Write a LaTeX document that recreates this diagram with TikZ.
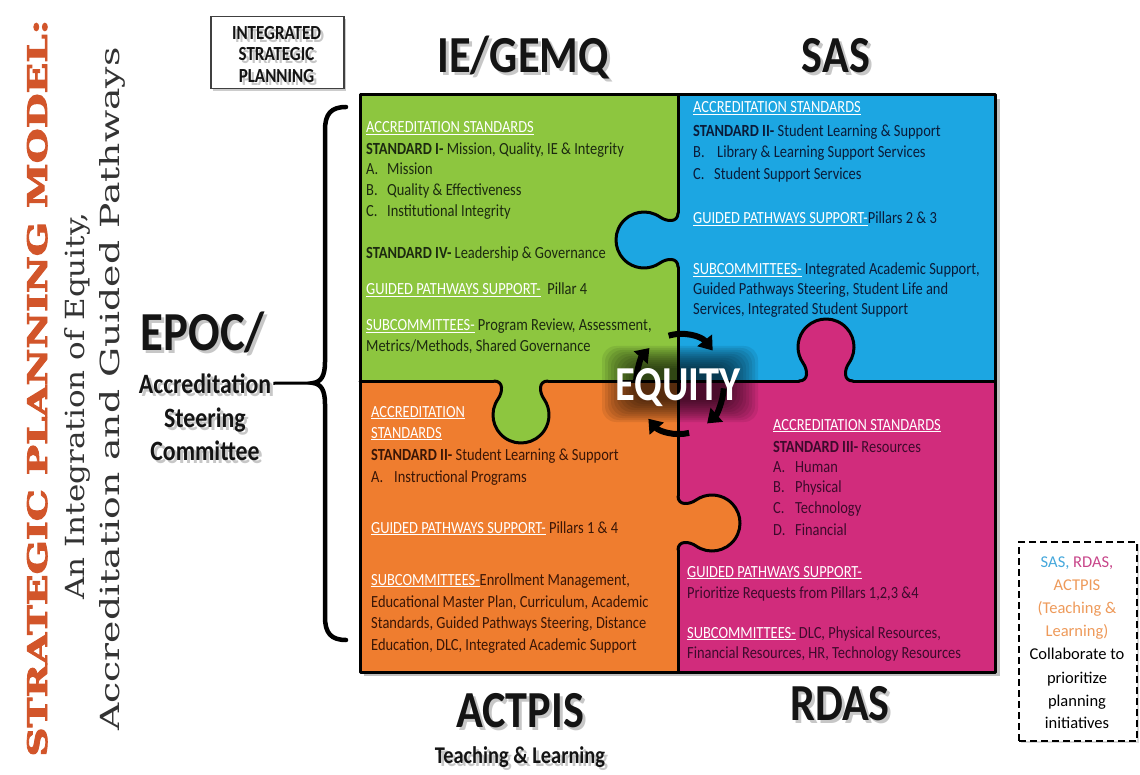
\documentclass[tikz,border=0pt]{standalone}
\usepackage{fontspec}
\setmainfont{Carlito}[FakeStretch=0.85]
\newfontfamily\plainfont{Carlito}
\newfontfamily\slabfont{DejaVu Serif}[BoldFeatures={FakeBold=3}]
\usetikzlibrary{arrows.meta}
\definecolor{pgreen}{HTML}{8DC63F}
\definecolor{pblue}{HTML}{1CA6E2}
\definecolor{porange}{HTML}{EF7D2F}
\definecolor{pmag}{HTML}{D12C7C}
\definecolor{gtxt}{HTML}{1C2A10}
\definecolor{btxt}{HTML}{0A1C3A}
\definecolor{otxt}{HTML}{3A1606}
\definecolor{mtxt}{HTML}{3E0A2C}
\definecolor{titlered}{HTML}{D2552A}
\definecolor{sastxt}{HTML}{45A8DC}
\definecolor{rdastxt}{HTML}{C8468A}
\definecolor{actptxt}{HTML}{EE9A5A}
\newcommand{\hd}[1]{{\color{white}\underline{#1}}}
\newcommand{\lbl}[2]{\makebox[#1][l]{#2}}
\newcommand{\knobfill}[4]{%
  \begin{scope}[shift={(#1,#2)},rotate=#3]
    \fill[#4] (0,-27) .. controls (0,-17) and (-11.4,-18.35) .. (-17.94,-22.94)
      arc[start angle=-55,end angle=-305,radius=28]
      .. controls (-11.4,18.35) and (0,17) .. (0,27) -- cycle;
  \end{scope}}
\newcommand{\knobline}[3]{%
  \begin{scope}[shift={(#1,#2)},rotate=#3]
    \draw[edge] (0,-27) .. controls (0,-17) and (-11.4,-18.35) .. (-17.94,-22.94)
      arc[start angle=-55,end angle=-305,radius=28]
      .. controls (-11.4,18.35) and (0,17) .. (0,27);
  \end{scope}}
\newcommand{\shadowlabel}[4]{%
  \node[anchor=base, inner sep=0pt, font=#3, text=black, opacity=0.22, xshift=3pt, yshift=-3pt] (#1-sh) at (#2) {#4};
  \node[anchor=base, inner sep=0pt, font=#3, text=black!92] (#1) at (#2) {#4};}
\tikzset{
  edge/.style={line width=3pt, line cap=round, line join=round, black},
  body/.style={anchor=base west, inner sep=0pt, font=\fontsize{17}{20}\selectfont},
  gt/.style={body, text=gtxt},
  bt/.style={body, text=btxt},
  ot/.style={body, text=otxt},
  mt/.style={body, text=mtxt},
  ringarrow/.style={line width=6pt, black, -{Triangle[length=13pt,width=18pt]}},
  boxtxt/.style={anchor=base, inner sep=0pt, font=\plainfont\fontsize{16.5}{20}\selectfont},
}
\begin{document}
\begin{tikzpicture}[x=1pt,y=-1pt]
\useasboundingbox (0,0) rectangle (1140,775);
\fill[white] (0,0) rectangle (1140,775);

% ---- left title ----
\node[rotate=90, anchor=base, inner sep=0pt, text=titlered] (title) at (47,388)
  {\resizebox{737pt}{20pt}{\slabfont\bfseries STRATEGIC PLANNING MODEL:}};
\node[rotate=90, anchor=base, inner sep=0pt, text=black!80] (sub1) at (84,406)
  {\resizebox{387pt}{20pt}{\slabfont An Integration of Equity,}};
\node[rotate=90, anchor=base, inner sep=0pt, text=black!80] (sub2) at (119,389)
  {\resizebox{683pt}{20pt}{\slabfont Accreditation and Guided Pathways}};

% ---- integrated strategic planning box ----
\fill[black, opacity=0.2] (213,19) rectangle (346,91);
\node[draw=black!75, line width=1.5pt, fill=white, minimum width=133pt, minimum height=72pt,
  inner sep=0pt, anchor=north west] (isp) at (210,16) {};
\shadowlabel{isp1}{276.5,39.5}{\bfseries\fontsize{20}{22}\selectfont}{INTEGRATED}
\shadowlabel{isp2}{276.5,61}{\bfseries\fontsize{20}{22}\selectfont}{STRATEGIC}
\shadowlabel{isp3}{276.5,82.5}{\bfseries\fontsize{20}{22}\selectfont}{PLANNING}

% ---- EPOC ----
\shadowlabel{epoc}{203,351}{\bfseries\fontsize{55}{60}\selectfont}{EPOC/}
\shadowlabel{accr}{205,393}{\bfseries\fontsize{28}{32}\selectfont}{Accreditation}
\shadowlabel{steer}{205,427}{\bfseries\fontsize{28}{32}\selectfont}{Steering}
\shadowlabel{comm}{205,460}{\bfseries\fontsize{28}{32}\selectfont}{Committee}
\coordinate (btip) at (313,383);
\draw[line width=3pt] ([xshift=2pt]accr.east) -- (btip);
\draw[line width=4.5pt, line cap=round] (346,107) .. controls (331,107) and (325,114) .. (325,130)
  -- (325,362) .. controls (325,376) and (321,382) .. (btip)
  .. controls (321,384) and (325,390) .. (325,404)
  -- (325,617) .. controls (325,633) and (331,640) .. (346,640);

% ---- puzzle ----
\fill[black, opacity=0.25] (364,99) rectangle (1000,676);
\fill[pgreen] (360,95) rectangle (678,381);
\fill[pblue] (678,95) rectangle (995,381);
\fill[porange] (360,381) rectangle (678,672);
\fill[pmag] (678,381) rectangle (995,672);
\knobfill{678}{240}{0}{pblue}
\knobfill{678}{523}{180}{porange}
\knobfill{826}{381}{-90}{pmag}
\knobfill{521}{381}{90}{pgreen}
\knobline{678}{240}{0}
\knobline{678}{523}{180}
\knobline{826}{381}{-90}
\knobline{521}{381}{90}
\draw[edge] (678,95) -- (678,213);
\draw[edge] (678,267) -- (678,496);
\draw[edge] (678,550) -- (678,672);
\draw[edge] (360,381) -- (494,381);
\draw[edge] (548,381) -- (799,381);
\draw[edge] (853,381) -- (995,381);
\draw[edge] (360,95) rectangle (995,672);

% ---- green text ----
\node[gt] (g1) at (366,133) {\hd{ACCREDITATION STANDARDS}};
\node[gt] (g2) at (366,155) {\textbf{STANDARD I-} Mission, Quality, IE \& Integrity};
\node[gt] (g3) at (366,175) {\lbl{21pt}{A.}Mission};
\node[gt] (g4) at (366,196) {\lbl{21pt}{B.}Quality \& Effectiveness};
\node[gt] (g5) at (366,217) {\lbl{21pt}{C.}Institutional Integrity};
\node[gt] (g6) at (366,259) {\textbf{STANDARD IV-} Leadership \& Governance};
\node[gt] (g7) at (366,295) {\hd{GUIDED PATHWAYS SUPPORT-}\ \ Pillar 4};
\node[gt] (g8) at (366,331) {\hd{SUBCOMMITTEES-}\ Program Review, Assessment,};
\node[gt] (g9) at (366,352) {Metrics/Methods, Shared Governance};

% ---- blue text ----
\node[bt] (b1) at (693,113) {\hd{ACCREDITATION STANDARDS}};
\node[bt] (b2) at (693,137) {\textbf{STANDARD II-} Student Learning \& Support};
\node[bt] (b3) at (693,158) {\lbl{24pt}{B.}Library \& Learning Support Services};
\node[bt] (b4) at (693,180) {\lbl{21pt}{C.}Student Support Services};
\node[bt] (b5) at (693,224) {\hd{GUIDED PATHWAYS SUPPORT-}Pillars 2 \& 3};
\node[bt] (b6) at (693,275) {\hd{SUBCOMMITTEES-} Integrated Academic Support,};
\node[bt] (b7) at (693,295) {Guided Pathways Steering, Student Life and};
\node[bt] (b8) at (693,315) {Services, Integrated Student Support};

% ---- orange text ----
\node[ot] (o1) at (371,417) {\hd{ACCREDITATION}};
\node[ot] (o2) at (371,438) {\hd{STANDARDS}};
\node[ot] (o3) at (371,460) {\textbf{STANDARD II-} Student Learning \& Support};
\node[ot] (o4) at (371,482) {\lbl{23pt}{A.}Instructional Programs};
\node[ot] (o5) at (371,533) {\hd{GUIDED PATHWAYS SUPPORT-} Pillars 1 \& 4};
\node[ot] (o6) at (371,585) {\hd{SUBCOMMITTEES-}Enrollment Management,};
\node[ot] (o7) at (371,607) {Educational Master Plan, Curriculum, Academic};
\node[ot] (o8) at (371,628) {Standards, Guided Pathways Steering, Distance};
\node[ot] (o9) at (371,650) {Education, DLC, Integrated Academic Support};

% ---- magenta text ----
\node[mt] (m1) at (773,430) {\hd{ACCREDITATION STANDARDS}};
\node[mt] (m2) at (773,452) {\textbf{STANDARD III-} Resources};
\node[mt] (m3) at (773,472) {\lbl{22pt}{A.}Human};
\node[mt] (m4) at (773,492) {\lbl{22pt}{B.}Physical};
\node[mt] (m5) at (773,513) {\lbl{22pt}{C.}Technology};
\node[mt] (m6) at (773,535) {\lbl{22pt}{D.}Financial};
\node[mt] (m7) at (687,577) {\hd{GUIDED PATHWAYS SUPPORT-}};
\node[mt] (m8) at (687,598) {Prioritize Requests from Pillars 1,2,3 \&4};
\node[mt] (m9) at (687,638) {\hd{SUBCOMMITTEES-} DLC, Physical Resources,};
\node[mt] (m10) at (687,658) {Financial Resources, HR, Technology Resources};

% ---- equity ----
\coordinate (eqc) at (680,384);
\foreach \i in {0,...,11}
  \fill[black, opacity=0.08, rounded corners=14pt]
    (680-78+3*\i, 384-38+2*\i) rectangle (680+78-3*\i, 384+38-2*\i);
\draw[ringarrow] (eqc) ++(-105:44 and 50) arc[start angle=-105, end angle=-42, x radius=44, y radius=50];
\draw[ringarrow] (eqc) ++(5:44 and 50) arc[start angle=5, end angle=52, x radius=44, y radius=50];
\draw[ringarrow] (eqc) ++(78:44 and 50) arc[start angle=78, end angle=136, x radius=44, y radius=50];
\draw[ringarrow] (eqc) ++(182:44 and 50) arc[start angle=182, end angle=226, x radius=44, y radius=50];
\node[anchor=base, inner sep=0pt, text=white] (equity) at (678,400)
  {\resizebox{125pt}{32pt}{\bfseries EQUITY}};

% ---- quadrant labels ----
\shadowlabel{iegemq}{523,73}{\bfseries\fontsize{52}{60}\selectfont}{IE/GEMQ}
\shadowlabel{sas}{836,73}{\bfseries\fontsize{52}{60}\selectfont}{SAS}
\shadowlabel{actpis}{520,727}{\bfseries\fontsize{52}{60}\selectfont}{ACTPIS}
\shadowlabel{rdas}{840,720}{\bfseries\fontsize{52}{60}\selectfont}{RDAS}
\shadowlabel{tl}{520,763}{\bfseries\fontsize{24}{28}\selectfont}{Teaching \& Learning}

% ---- collaborate box ----
\fill[black, opacity=0.15] (1021,544) rectangle (1139,743);
\node[draw=black, fill=white, line width=2pt, dash pattern=on 7pt off 4pt, minimum width=118pt,
  minimum height=199pt, anchor=north west, inner sep=0pt] (collab) at (1018,541) {};
\node[boxtxt] (c1) at (1077,567) {\textcolor{sastxt}{SAS,} \textcolor{rdastxt}{RDAS,}};
\node[boxtxt, text=actptxt] (c2) at (1077,590) {ACTPIS};
\node[boxtxt, text=actptxt] (c3) at (1077,613) {(Teaching \&};
\node[boxtxt, text=actptxt] (c4) at (1077,636) {Learning)};
\node[boxtxt] (c5) at (1077,659) {Collaborate to};
\node[boxtxt] (c6) at (1077,683) {prioritize};
\node[boxtxt] (c7) at (1077,706) {planning};
\node[boxtxt] (c8) at (1077,728) {initiatives};
\end{tikzpicture}
\end{document}
